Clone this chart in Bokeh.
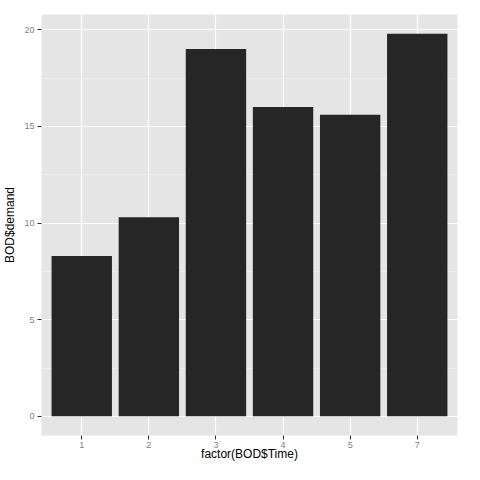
from bokeh.plotting import figure
from bokeh.models import FactorRange, Range1d, ColumnDataSource, FixedTicker
from bokeh.embed import file_html
from bokeh.resources import INLINE

times = ["1", "2", "3", "4", "5", "7"]
demand = [8.3, 10.3, 19.0, 16.0, 15.6, 19.8]
y_ticks = [0, 5, 10, 15, 20]
y_minor = [2.5, 7.5, 12.5, 17.5]

src = ColumnDataSource(dict(x=times, top=demand))

p = figure(width=464, height=464, output_backend="svg", toolbar_location=None,
           x_range=FactorRange(factors=times, range_padding=0.1, range_padding_units="absolute"),
           y_range=Range1d(-0.99, 20.79))

p.min_border_left = 41
p.min_border_right = 7
p.min_border_top = 14
p.min_border_bottom = 29

p.background_fill_color = "#e5e5e5"
p.border_fill_color = "white"
p.outline_line_color = None

p.vbar(x="x", top="top", width=0.9, bottom=0, source=src,
       fill_color="#262626", line_color=None)

p.yaxis.ticker = FixedTicker(ticks=y_ticks, minor_ticks=y_minor)
p.ygrid.grid_line_color = "white"
p.ygrid.grid_line_width = 1.2
p.ygrid.minor_grid_line_color = "#f2f2f2"
p.ygrid.minor_grid_line_width = 0.6
p.xgrid.grid_line_color = "white"
p.xgrid.grid_line_width = 1.2
p.ygrid.level = "underlay"
p.xgrid.level = "underlay"

for ax in (p.xaxis[0], p.yaxis[0]):
    ax.axis_line_color = None
    ax.major_tick_line_color = "#333333"
    ax.major_tick_out = 4
    ax.major_tick_in = 0
    ax.minor_tick_line_color = None
    ax.major_label_text_color = "#7f7f7f"
    ax.major_label_text_font = "Liberation Sans"
    ax.major_label_text_font_size = "9px"
    ax.axis_label_text_font = "Liberation Sans"
    ax.axis_label_text_font_size = "12px"
    ax.axis_label_text_font_style = "normal"
    ax.axis_label_text_color = "black"

p.xaxis.major_label_standoff = 2
p.xaxis.axis_label_standoff = -4
p.yaxis.major_label_standoff = 3
p.yaxis.axis_label_standoff = 4

p.xaxis.axis_label = "factor(BOD$Time)"
p.yaxis.axis_label = "BOD$demand"

open("out.html", "w").write(file_html(p, INLINE))
